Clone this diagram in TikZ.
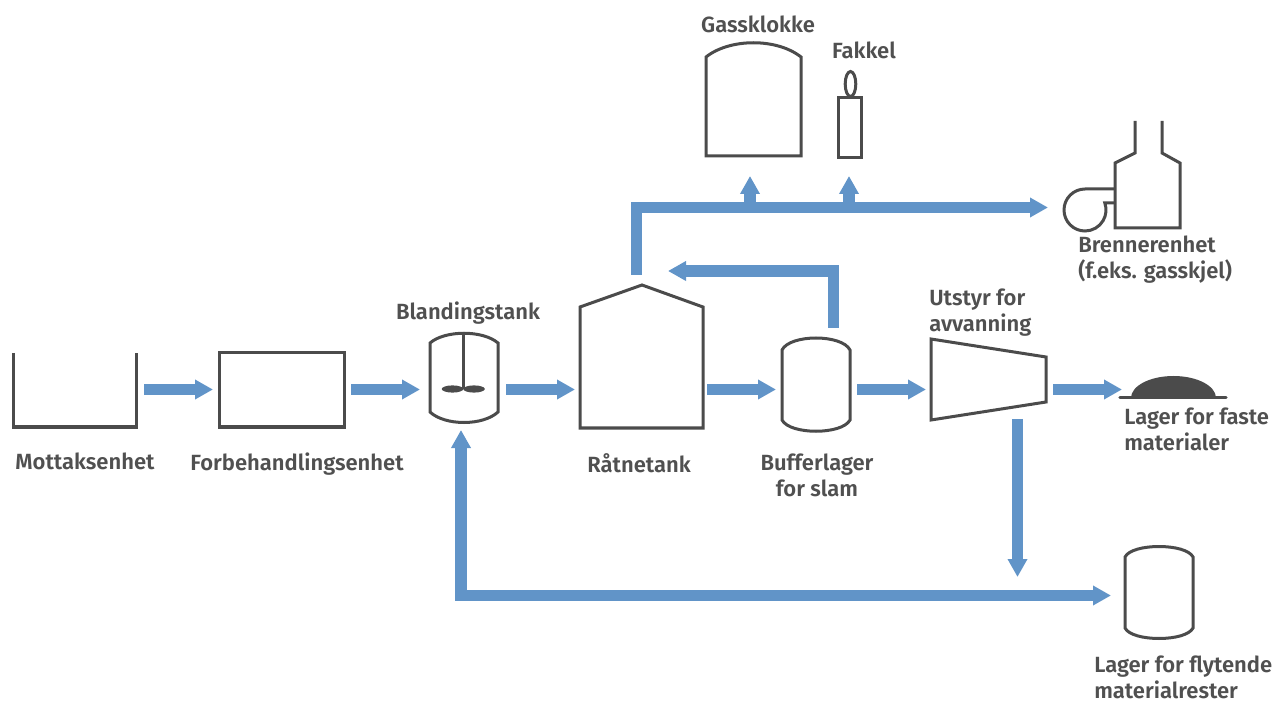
\documentclass[tikz,border=0pt]{standalone}
\usepackage{fontspec}
\setmainfont{Fira Sans}[UprightFont={* SemiBold}]
\usetikzlibrary{arrows.meta}
\definecolor{flowblue}{HTML}{6194C8}
\definecolor{shapegray}{HTML}{4B4B4B}
\definecolor{textgray}{HTML}{505050}
\tikzset{
  unit/.style={draw=shapegray, line width=2.25pt, line join=miter},
  flow/.style={draw=flowblue, line width=8.6pt, line join=miter, -{Triangle[length=13.5pt, width=14pt]}},
  lbl/.style={text=textgray, font=\fontsize{16.5}{19.5}\selectfont, inner sep=0pt}
}
\begin{document}
\begin{tikzpicture}[x=0.75pt, y=-0.75pt]
\useasboundingbox (0,0) rectangle (1286,702);

% ---------- units ----------
% Mottaksenhet
\draw[unit] (13,353) -- (13,427) -- (136,427) -- (136,353);
% Forbehandlingsenhet
\draw[unit] (219,353) rectangle (344,427);
% Blandingstank
\draw[unit] (430,343) .. controls (445,330) and (483,330) .. (498,343) -- (498,412)
  .. controls (483,426) and (445,426) .. (430,412) -- cycle;
\draw[unit] (463,333) -- (463,389);
\fill[shapegray] (452.5,389) ellipse [x radius=10.8, y radius=3.6];
\fill[shapegray] (474,389) ellipse [x radius=10.8, y radius=3.6];
% Raatnetank
\draw[unit] (580,428) -- (580,307) -- (642,285) -- (703,307) -- (703,428) -- cycle;
% Bufferlager
\draw[unit] (782,350) .. controls (790,334) and (842,334) .. (850,350) -- (850,420)
  .. controls (842,435) and (790,435) .. (782,420) -- cycle;
% Avvanning
\draw[unit] (931,339) -- (1046,357) -- (1046,402) -- (931,420) -- cycle;
% Lager faste
\fill[shapegray] (1131,398) arc[start angle=180, end angle=360, x radius=42.5, y radius=22] -- cycle;
\draw[shapegray, line width=2.6pt, line cap=round] (1120,397.5) -- (1226,397.5);
% Lager flytende
\draw[unit] (1125,557) .. controls (1132,543) and (1186,543) .. (1193,557) -- (1193,628)
  .. controls (1186,642) and (1132,642) .. (1125,628) -- cycle;
% Gassklokke
\draw[unit] (706,156) -- (706,57) .. controls (730,38) and (777,38) .. (801,57) -- (801,156) -- cycle;
% Fakkel
\draw[unit] (838,98) rectangle (861,158);
\draw[unit] (850.5,84) ellipse [x radius=5.3, y radius=12.5];
% Brennerenhet
\draw[unit] (1135,121) -- (1135,153) -- (1115,163) -- (1115,228) -- (1180,228) -- (1180,163) -- (1162,153) -- (1162,121);
\draw[unit] (1115,189) -- (1085,189) arc[start angle=270, end angle=-19.5, radius=21] -- (1115,203);

% ---------- labels ----------
\node[lbl, anchor=north] (tMott) at (85,453) {Mottaksenhet};
\node[lbl, anchor=north] (tForb) at (297,453) {Forbehandlingsenhet};
\node[lbl, anchor=north] (tBland) at (468,302) {Blandingstank};
\node[lbl, anchor=north] (tRaat) at (639,453) {Råtnetank};
\node[lbl, anchor=north, align=center] (tBuff) at (817,454) {Bufferlager\\for slam};
\node[lbl, anchor=north west, align=left] (tAvv) at (929,289) {Utstyr for\\avvanning};
\node[lbl, anchor=north west, align=left] (tFaste) at (1124,408) {Lager for faste\\materialer};
\node[lbl, anchor=north west, align=left] (tFlyt) at (1094,656) {Lager for flytende\\materialrester};
\node[lbl, anchor=north] (tGass) at (758,16) {Gassklokke};
\node[lbl, anchor=north] (tFakk) at (864,42) {Fakkel};
\node[lbl, anchor=north west, align=left] (tBren) at (1078,236) {Brennerenhet\\(f.eks. gasskjel)};

% ---------- connector ends ----------
\coordinate (m1) at (144,389.5);   \coordinate (f1) at (213,389.5);
\coordinate (f2) at (351,389.5);   \coordinate (b2) at (420,389.5);
\coordinate (b3) at (506,389.5);   \coordinate (r3) at (575,389.5);
\coordinate (r4) at (707,389.5);   \coordinate (u4) at (776,389.5);
\coordinate (u5) at (857,389.5);   \coordinate (a5) at (926,389.5);
\coordinate (a6) at (1053,389.5);  \coordinate (s6) at (1122,389.5);
\coordinate (rgas) at (636.5,275); \coordinate (bren) at (1048,207.5);
\coordinate (gb1) at (750,207.5);  \coordinate (gk) at (750,176);
\coordinate (gb2) at (849,207.5);  \coordinate (fk) at (849,176);
\coordinate (ubk) at (833.5,328);  \coordinate (rbk) at (668,271);
\coordinate (adn) at (1017.5,419); \coordinate (ldn) at (1017.5,577);
\coordinate (bup) at (461,430);    \coordinate (lliq) at (1111,595.5);

% ---------- flows ----------
\draw[flow] (m1) -- (f1);
\draw[flow] (f2) -- (b2);
\draw[flow] (b3) -- (r3);
\draw[flow] (r4) -- (u4);
\draw[flow] (u5) -- (a5);
\draw[flow] (a6) -- (s6);
\draw[flow] (rgas) |- (bren);
\draw[flow] (gb1) -- (gk);
\draw[flow] (gb2) -- (fk);
\draw[flow] (ubk) |- (rbk);
\draw[flow] (adn) -- (ldn);
\draw[flow, {Triangle[length=13.5pt, width=14pt]}-{Triangle[length=13.5pt, width=14pt]}] (bup) |- (lliq);
\end{tikzpicture}
\end{document}
